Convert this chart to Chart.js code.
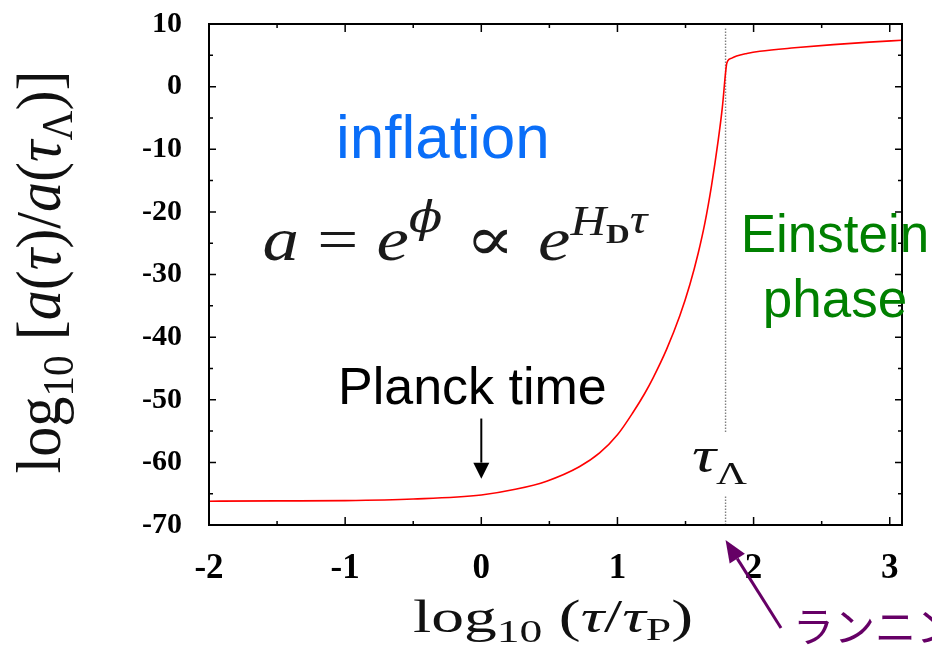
<!DOCTYPE html>
<html>
<head>
<meta charset="utf-8">
<script src="https://cdn.jsdelivr.net/npm/chart.js@4.4.1/dist/chart.umd.min.js"></script>
<style>
  html, body { margin: 0; padding: 0; background: #fff; }
  #wrap { width: 932px; height: 655px; }
</style>
</head>
<body>
<div id="wrap"><canvas id="mychart" width="932" height="655"></canvas></div>
<script>
// scale factor curve: log10(tau/tauP) vs log10[a(tau)/a(tauL)]
var tauLog = [-2, -1.5, -1, -0.5, 0, 0.25, 0.48, 0.72, 0.869, 1.0, 1.115, 1.2, 1.262, 1.36, 1.458, 1.532, 1.593, 1.642, 1.691, 1.74, 1.77, 1.801, 1.81, 1.84, 1.875, 1.95, 2.046, 2.3, 2.585, 2.85, 3.09];
var aLog   = [-66.2, -66.15, -66.1, -65.85, -65.2, -64.3, -63.0, -60.7, -58.5, -55.6, -52.0, -49.0, -46.5, -42.0, -36.6, -31.6, -26.6, -21.8, -15.8, -8.6, -3.4, 3.5, 4.1, 4.55, 4.9, 5.3, 5.65, 6.2, 6.7, 7.1, 7.4];
var xTicks = [-2, -1, 0, 1, 2, 3];
var yTicks = [-70, -60, -50, -40, -30, -20, -10, 0, 10];
var tauLambda = 1.794;
var planckTime = 0;

var SERIF = '"Liberation Serif", "DejaVu Serif", serif';
var SANS = '"Liberation Sans", Arial, sans-serif';

var curve = [];
for (var i = 0; i < tauLog.length; i++) curve.push({x: tauLog[i], y: aLog[i]});

// draws a run of [text, font, dy] pieces centred at x, squeezed to width w
function richText(ctx, parts, x, y, w, angle, color) {
  ctx.save();
  ctx.translate(x, y);
  if (angle) ctx.rotate(angle);
  var total = 0;
  parts.forEach(function(p){ ctx.font = p[1]; total += ctx.measureText(p[0]).width; });
  ctx.scale(w / total, 1);
  ctx.fillStyle = color || '#000';
  ctx.textBaseline = 'alphabetic';
  ctx.textAlign = 'left';
  var cx = -total / 2;
  parts.forEach(function(p){
    ctx.font = p[1];
    ctx.fillText(p[0], cx, p[2] || 0);
    cx += ctx.measureText(p[0]).width;
  });
  ctx.restore();
}

function arrow(ctx, x1, y1, x2, y2, color, lw, hl, hw) {
  var a = Math.atan2(y2 - y1, x2 - x1);
  ctx.save();
  ctx.strokeStyle = color; ctx.fillStyle = color; ctx.lineWidth = lw;
  ctx.beginPath();
  ctx.moveTo(x1, y1);
  ctx.lineTo(x2 - hl * Math.cos(a), y2 - hl * Math.sin(a));
  ctx.stroke();
  ctx.beginPath();
  ctx.moveTo(x2, y2);
  ctx.lineTo(x2 - hl * Math.cos(a) + hw * Math.sin(a), y2 - hl * Math.sin(a) - hw * Math.cos(a));
  ctx.lineTo(x2 - hl * Math.cos(a) - hw * Math.sin(a), y2 - hl * Math.sin(a) + hw * Math.cos(a));
  ctx.closePath();
  ctx.fill();
  ctx.restore();
}

// gnuplot style border with inward ticks on all four sides
var frame = {
  id: 'frame',
  afterDatasetsDraw: function(chart) {
    var ctx = chart.ctx, ca = chart.chartArea;
    var xs = chart.scales.x, ys = chart.scales.y;
    ctx.save();
    ctx.strokeStyle = '#000';
    ctx.lineWidth = 1.5;
    ctx.beginPath();
    var i, p;
    for (i = 0; i < yTicks.length; i++) {
      p = ys.getPixelForValue(yTicks[i]);
      ctx.moveTo(ca.left, p); ctx.lineTo(ca.left + 7, p);
      ctx.moveTo(ca.right, p); ctx.lineTo(ca.right - 7, p);
      if (i < yTicks.length - 1) {
        p = ys.getPixelForValue((yTicks[i] + yTicks[i + 1]) / 2);
        ctx.moveTo(ca.left, p); ctx.lineTo(ca.left + 4, p);
        ctx.moveTo(ca.right, p); ctx.lineTo(ca.right - 4, p);
      }
    }
    for (i = 0; i < xTicks.length; i++) {
      p = xs.getPixelForValue(xTicks[i]);
      ctx.moveTo(p, ca.bottom); ctx.lineTo(p, ca.bottom - 8);
      ctx.moveTo(p, ca.top); ctx.lineTo(p, ca.top + 8);
      if (i < xTicks.length - 1) {
        p = xs.getPixelForValue(xTicks[i] + 0.5);
        ctx.moveTo(p, ca.bottom); ctx.lineTo(p, ca.bottom - 4);
        ctx.moveTo(p, ca.top); ctx.lineTo(p, ca.top + 4);
      }
    }
    ctx.stroke();
    ctx.lineWidth = 2;
    ctx.strokeRect(ca.left, ca.top, ca.right - ca.left, ca.bottom - ca.top);
    ctx.restore();
  }
};

// labels, formula and arrows
var notes = {
  id: 'notes',
  afterDraw: function(chart) {
    var ctx = chart.ctx, ca = chart.chartArea;
    var xs = chart.scales.x, ys = chart.scales.y;
    var tx = xs.getPixelForValue(tauLambda);

    // tau_Lambda label over the dotted line
    ctx.fillStyle = '#fff';
    ctx.fillRect(tx - 40, 432, 66, 63);
    richText(ctx, [['τ', 'italic 50px ' + SERIF, 0], ['Λ', '32px ' + SERIF, 12]], tx - 6, 472, 55, 0, '#111');

    ctx.save();
    ctx.textAlign = 'left';
    ctx.textBaseline = 'alphabetic';
    ctx.font = '62px ' + SANS;
    ctx.fillStyle = '#0a6ef8';
    ctx.fillText('inflation', 336, 158);

    ctx.font = '52px ' + SANS;
    ctx.fillStyle = '#000';
    ctx.fillText('Planck time', 338, 404);

    ctx.textAlign = 'center';
    ctx.font = '53px ' + SANS;
    ctx.fillStyle = '#008000';
    ctx.fillText('Einstein', 835, 252);
    ctx.fillText('phase', 835, 317);
    ctx.restore();

    // a = e^phi ~ e^{H_D tau}
    richText(ctx, [
      ['a', 'italic 62px ' + SERIF, 0],
      [' = ', '62px ' + SERIF, 0],
      ['e', 'italic 62px ' + SERIF, 0],
      ['ϕ', 'italic 42px "DejaVu Serif", serif', -28],
      [' ∝ ', '62px "DejaVu Serif", serif', 0],
      ['e', 'italic 62px ' + SERIF, 0],
      ['H', 'italic 42px ' + SERIF, -25],
      ['D', 'bold 28px ' + SERIF, -17],
      ['τ', 'italic 42px ' + SERIF, -27]
    ], 455, 260, 385, 0, '#1a1a1a');

    // axis titles
    richText(ctx, [
      ['log', '46px ' + SERIF, 0], ['10', '32px ' + SERIF, 10], [' (', '46px ' + SERIF, 0],
      ['τ', 'italic 46px ' + SERIF, 0], ['/', '46px ' + SERIF, 0], ['τ', 'italic 46px ' + SERIF, 0],
      ['P', '32px ' + SERIF, 8], [')', '46px ' + SERIF, 0]
    ], 553, 632, 280, 0, '#111');
    richText(ctx, [
      ['log', '64px ' + SERIF, 0], ['10', '44px ' + SERIF, 13], [' [', '64px ' + SERIF, 0],
      ['a', 'italic 64px ' + SERIF, 0], ['(', '64px ' + SERIF, 0], ['τ', 'italic 64px ' + SERIF, 0],
      [')', '64px ' + SERIF, 0], ['/', '64px ' + SERIF, 0], ['a', 'italic 64px ' + SERIF, 0],
      ['(', '64px ' + SERIF, 0], ['τ', 'italic 64px ' + SERIF, 0], ['Λ', '44px ' + SERIF, 12],
      [')', '64px ' + SERIF, 0], [']', '64px ' + SERIF, 0]
    ], 60, 272, 403, -Math.PI / 2, '#111');

    // Planck time arrow
    var px = xs.getPixelForValue(planckTime);
    arrow(ctx, px, ys.getPixelForValue(-53), px, ys.getPixelForValue(-62.6), '#000', 2, 16, 8);

    // purple pointer to tau_Lambda
    arrow(ctx, 781, 628, tx, ca.bottom + 15, '#660066', 3, 22, 9);
    ctx.save();
    ctx.font = '41px "Noto Sans CJK JP", sans-serif';
    ctx.fillStyle = '#660066';
    ctx.textAlign = 'left';
    ctx.textBaseline = 'middle';
    ctx.fillText('ランニン', 793, 626);
    ctx.restore();
  }
};

var ctx = document.getElementById('mychart').getContext('2d');
var chart = new Chart(ctx, {
  type: 'line',
  data: {
    datasets: [{
      data: curve,
      borderColor: 'rgb(255, 0, 0)',
      borderWidth: 1.6,
      pointRadius: 0,
      cubicInterpolationMode: 'monotone',
      fill: false
    }, {
      data: [{x: tauLambda, y: -70}, {x: tauLambda, y: 9.4}],
      borderColor: '#808080',
      borderWidth: 1.4,
      borderDash: [1.5, 1.5],
      pointRadius: 0
    }]
  },
  plugins: [frame, notes],
  options: {
    responsive: false,
    animation: false,
    events: [],
    layout: {padding: {top: 24, right: 30, left: 0, bottom: 0}},
    plugins: {legend: {display: false}, tooltip: {enabled: false}},
    scales: {
      x: {
        type: 'linear', min: -2, max: 3.09,
        grid: {display: false}, border: {display: false},
        afterBuildTicks: function(s){ s.ticks = xTicks.map(function(v){ return {value: v}; }); },
        afterFit: function(s){ s.height = 130; s.paddingLeft = 0; s.paddingRight = 0; },
        ticks: {color: '#000', padding: 15, maxRotation: 0, font: {family: SERIF, size: 35, weight: 'bold'}}
      },
      y: {
        type: 'linear', min: -70, max: 10,
        grid: {display: false}, border: {display: false},
        afterBuildTicks: function(s){ s.ticks = yTicks.map(function(v){ return {value: v}; }); },
        afterFit: function(s){ s.width = 209; s.paddingTop = 0; s.paddingBottom = 0; },
        ticks: {color: '#000', padding: 19, font: {family: SERIF, size: 30, weight: 'bold'}}
      }
    }
  }
});
</script>
</body>
</html>
